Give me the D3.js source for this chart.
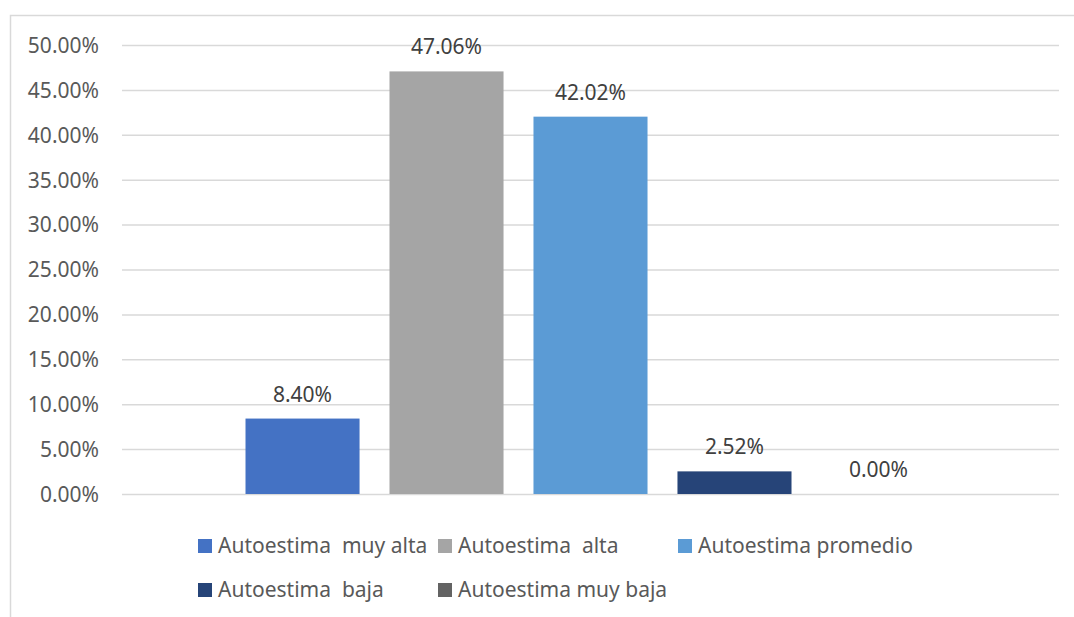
<!DOCTYPE html>
<html lang="es">
<head>
<meta charset="utf-8">
<style>
  body { margin: 0; background: #fff; }
  text { font-family: "Noto Sans", "Open Sans", sans-serif; }
</style>
</head>
<body>
<div id="chart"></div>
<script src="https://cdnjs.cloudflare.com/ajax/libs/d3/7.8.5/d3.min.js"></script>
<script>
// data
var categories = ['Autoestima'];
var seriesNames = ['Autoestima  muy alta', 'Autoestima  alta', 'Autoestima promedio', 'Autoestima  baja', 'Autoestima muy baja'];
var seriesValues = [0.084, 0.4706, 0.4202, 0.0252, 0.0];
var seriesColors = ['#4472C4', '#A5A5A5', '#5B9BD5', '#264478', '#636363'];
var yTicks = [0, 0.05, 0.10, 0.15, 0.20, 0.25, 0.30, 0.35, 0.40, 0.45, 0.50];

var WIDTH = 1074, HEIGHT = 617;
var plot = { left: 122, right: 1059, top: 45, bottom: 494 };

var svg = d3.select('#chart').append('svg').attr('width', WIDTH).attr('height', HEIGHT);

// chart frame
svg.append('rect')
  .attr('x', 10.5).attr('y', 15.5)
  .attr('width', WIDTH).attr('height', HEIGHT)
  .attr('fill', 'none').attr('stroke', '#D9D9D9').attr('stroke-width', 1.5);

var y = d3.scaleLinear().domain([0, 0.5]).range([plot.bottom, plot.top]);
var x0 = d3.scaleBand().domain(categories).range([plot.left, plot.right]).paddingInner(0).paddingOuter(0.179);
var x1 = d3.scaleBand().domain(seriesNames).range([0, x0.bandwidth()]).paddingInner(0.208).paddingOuter(0);

var fmt = function (v) { return (v * 100).toFixed(2) + '%'; };

// gridlines + y axis
var yAxis = d3.axisLeft(y).tickValues(yTicks).tickFormat(fmt)
  .tickSize(-(plot.right - plot.left)).tickPadding(23);
var gy = svg.append('g').attr('transform', 'translate(' + plot.left + ',0)').call(yAxis);
gy.select('.domain').remove();
gy.selectAll('.tick line').attr('stroke', '#D9D9D9').attr('stroke-width', 1.5);
gy.selectAll('.tick text').attr('fill', '#595959').style('font-size', '21px').attr('dy', '0.35em');

// bars
var g = svg.append('g').attr('transform', 'translate(' + x0(categories[0]) + ',0)');
g.selectAll('rect')
  .data(seriesNames)
  .join('rect')
  .attr('x', function (d) { return x1(d); })
  .attr('y', function (d, i) { return y(seriesValues[i]); })
  .attr('width', x1.bandwidth())
  .attr('height', function (d, i) { return y(0) - y(seriesValues[i]); })
  .attr('fill', function (d, i) { return seriesColors[i]; });

// data labels
g.selectAll('text.lbl')
  .data(seriesNames)
  .join('text')
  .attr('class', 'lbl')
  .attr('x', function (d) { return x1(d) + x1.bandwidth() / 2; })
  .attr('y', function (d, i) { return y(seriesValues[i]) - 17; })
  .attr('text-anchor', 'middle')
  .attr('fill', '#404040')
  .style('font-size', '21px')
  .text(function (d, i) { return fmt(seriesValues[i]); });

// legend
var legend = svg.append('g');
var items = legend.selectAll('g')
  .data(seriesNames)
  .join('g')
  .attr('transform', function (d, i) {
    return 'translate(' + (198 + (i % 3) * 240) + ',' + (546 + Math.floor(i / 3) * 44) + ')';
  });
items.append('rect')
  .attr('x', 0).attr('y', -7).attr('width', 14).attr('height', 14)
  .attr('fill', function (d, i) { return seriesColors[i]; });
items.append('text')
  .attr('x', 20).attr('dy', '0.35em')
  .attr('fill', '#595959')
  .style('font-size', '21px')
  .style('white-space', 'pre')
  .text(function (d) { return d; });
</script>
</body>
</html>
